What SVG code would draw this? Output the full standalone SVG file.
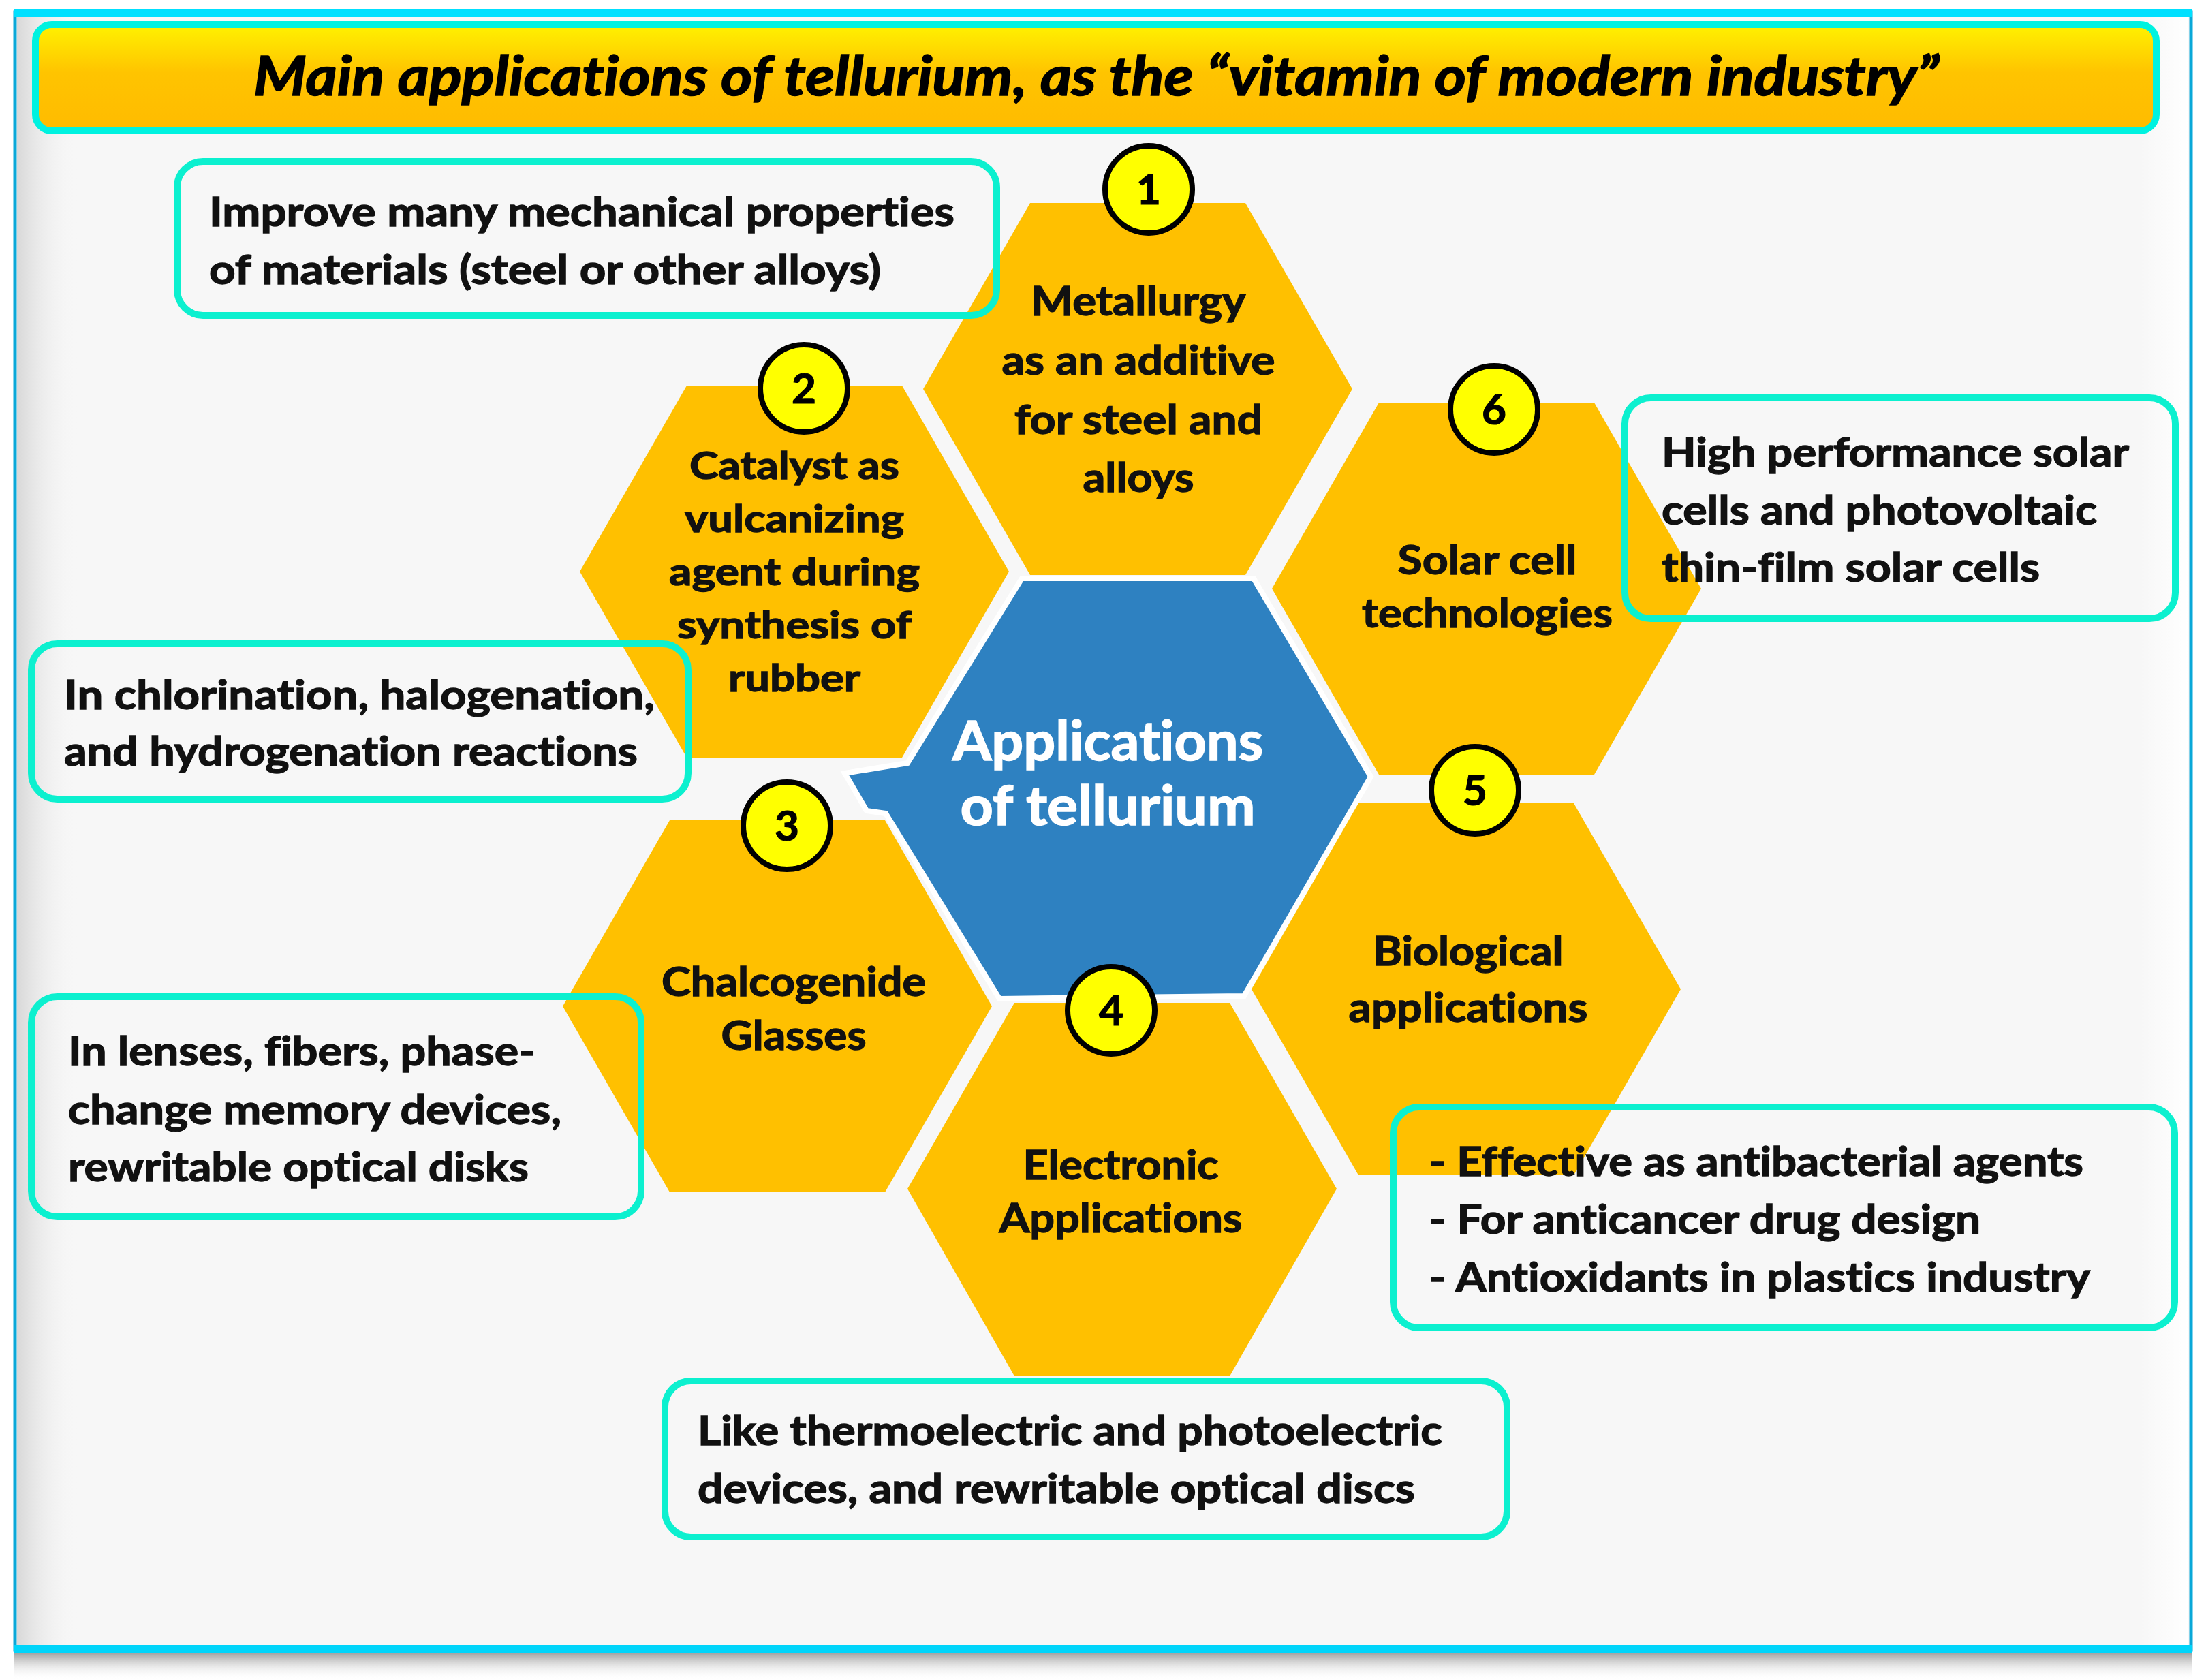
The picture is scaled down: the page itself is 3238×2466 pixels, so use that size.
<svg xmlns="http://www.w3.org/2000/svg" width="3238" height="2466" viewBox="0 0 3238 2466">
<defs>
<linearGradient id="titleGrad" x1="0" y1="0" x2="0" y2="1">
<stop offset="0" stop-color="#fff200"/>
<stop offset="0.45" stop-color="#ffc400"/>
<stop offset="1" stop-color="#ffbb00"/>
</linearGradient>
<linearGradient id="shadowGrad" x1="0" y1="0" x2="0" y2="1">
<stop offset="0" stop-color="#9a9a9a" stop-opacity="0.9"/>
<stop offset="1" stop-color="#ffffff" stop-opacity="0"/>
</linearGradient>
<linearGradient id="leftShade" x1="0" y1="0" x2="1" y2="0">
<stop offset="0" stop-color="#d8d8d8"/>
<stop offset="1" stop-color="#f7f7f7" stop-opacity="0"/>
</linearGradient>
<linearGradient id="rightShine" x1="0" y1="0" x2="1" y2="0">
<stop offset="0" stop-color="#ffffff" stop-opacity="0"/>
<stop offset="1" stop-color="#ffffff"/>
</linearGradient>
<style>
text{font-variant-ligatures:none;font-feature-settings:"liga" 0;}
.hex{fill:#ffc000;}
.core{fill:#2e81c1;stroke:#ffffff;stroke-width:8;stroke-linejoin:miter;}
.ht{font-family:Lato,"Open Sans","Liberation Sans",sans-serif;font-weight:bold;font-size:60px;fill:#111111;stroke:#111111;stroke-width:1.4;text-anchor:middle;}
.ht2{font-family:Lato,"Open Sans","Liberation Sans",sans-serif;font-weight:bold;font-size:56px;fill:#111111;stroke:#111111;stroke-width:1.4;text-anchor:middle;}
.ct{font-family:Lato,"Open Sans","Liberation Sans",sans-serif;font-weight:bold;font-size:80px;fill:#ffffff;stroke:#ffffff;stroke-width:1.6;text-anchor:middle;}
.badge{fill:#ffff00;stroke:#000000;stroke-width:8;}
.bn{font-family:Lato,"Open Sans","Liberation Sans",sans-serif;font-weight:bold;font-size:62px;fill:#000000;stroke:#000000;stroke-width:1.2;text-anchor:middle;}
.box{fill:none;stroke:#0cf0cf;stroke-width:10;}
.bt{font-family:Lato,"Open Sans","Liberation Sans",sans-serif;font-weight:bold;font-size:60px;fill:#111111;stroke:#111111;stroke-width:1.4;}
.title{font-family:Lato,"Open Sans","Liberation Sans",sans-serif;font-weight:bold;font-style:italic;font-size:80px;fill:#000000;stroke:#000000;stroke-width:1.6;text-anchor:middle;}
</style>
</defs>

<g id="frame">
<rect x="20" y="2427" width="3198" height="39" fill="url(#shadowGrad)"/>
<rect x="22" y="18" width="3194" height="2404" fill="#f7f7f7" stroke="#0aa8d8" stroke-width="5"/>
<rect x="25" y="25" width="90" height="2390" fill="url(#leftShade)"/>
<rect x="3140" y="25" width="72" height="2390" fill="url(#rightShine)"/>
<rect x="20" y="13" width="3198" height="12" fill="#00e0ff"/>
<rect x="20" y="2415" width="3198" height="12" fill="#00d4fa"/>
</g>

<g id="title">
<rect x="52" y="36" width="3113" height="156" rx="24" fill="url(#titleGrad)" stroke="#00f2e0" stroke-width="10"/>
<text class="title" x="1609" y="140" textLength="2474" lengthAdjust="spacingAndGlyphs">Main applications of tellurium, as the “vitamin of modern industry”</text>
</g>

<g id="center">
<polygon class="core" points="1500,849 1840,849 2012,1140 1826,1462 1467,1466 1300,1194 1272,1190 1240,1135 1332,1120"/>
<text class="ct" x="1626" y="1116" textLength="456" lengthAdjust="spacingAndGlyphs">Applications</text>
<text class="ct" x="1626" y="1211" textLength="433" lengthAdjust="spacingAndGlyphs">of tellurium</text>
</g>

<g id="hex-1">
<polygon class="hex" points="1355,571 1512,298 1828,298 1985,571 1828,844 1512,844"/>
<text class="ht" x="1671" y="463" textLength="315" lengthAdjust="spacingAndGlyphs">Metallurgy</text>
<text class="ht" x="1671" y="550" textLength="401" lengthAdjust="spacingAndGlyphs">as an additive</text>
<text class="ht" x="1671" y="637" textLength="364" lengthAdjust="spacingAndGlyphs">for steel and</text>
<text class="ht" x="1671" y="722" textLength="163" lengthAdjust="spacingAndGlyphs">alloys</text>
<circle class="badge" cx="1686" cy="278" r="64"/>
<text class="bn" x="1686" y="300">1</text>
</g>

<g id="hex-2">
<polygon class="hex" points="851,839 1008,566 1324,566 1481,839 1324,1112 1008,1112"/>
<text class="ht2" x="1166" y="703" textLength="308" lengthAdjust="spacingAndGlyphs">Catalyst as</text>
<text class="ht2" x="1166" y="781" textLength="322" lengthAdjust="spacingAndGlyphs">vulcanizing</text>
<text class="ht2" x="1166" y="859" textLength="368" lengthAdjust="spacingAndGlyphs">agent during</text>
<text class="ht2" x="1166" y="937" textLength="344" lengthAdjust="spacingAndGlyphs">synthesis of</text>
<text class="ht2" x="1166" y="1015" textLength="194" lengthAdjust="spacingAndGlyphs">rubber</text>
<circle class="badge" cx="1180" cy="570" r="64"/>
<text class="bn" x="1180" y="592">2</text>
</g>

<g id="hex-6">
<polygon class="hex" points="1867,864 2024,591 2340,591 2497,864 2340,1137 2024,1137"/>
<text class="ht" x="2183" y="843" textLength="263" lengthAdjust="spacingAndGlyphs">Solar cell</text>
<text class="ht" x="2183" y="921" textLength="368" lengthAdjust="spacingAndGlyphs">technologies</text>
<circle class="badge" cx="2193" cy="601" r="64"/>
<text class="bn" x="2193" y="623">6</text>
</g>

<g id="hex-3">
<polygon class="hex" points="826,1477 983,1204 1299,1204 1456,1477 1299,1750 983,1750"/>
<text class="ht" x="1165" y="1462" textLength="388" lengthAdjust="spacingAndGlyphs">Chalcogenide</text>
<text class="ht" x="1165" y="1541" textLength="213" lengthAdjust="spacingAndGlyphs">Glasses</text>
<circle class="badge" cx="1155" cy="1212" r="64"/>
<text class="bn" x="1155" y="1234">3</text>
</g>

<g id="hex-4">
<polygon class="hex" points="1332,1745 1489,1472 1805,1472 1962,1745 1805,2020 1489,2020"/>
<text class="ht" x="1645" y="1731" textLength="287" lengthAdjust="spacingAndGlyphs">Electronic</text>
<text class="ht" x="1645" y="1809" textLength="357" lengthAdjust="spacingAndGlyphs">Applications</text>
<circle class="badge" cx="1631" cy="1483" r="64"/>
<text class="bn" x="1631" y="1505">4</text>
</g>

<g id="hex-5">
<polygon class="hex" points="1837,1452 1994,1179 2310,1179 2467,1452 2310,1725 1994,1725"/>
<text class="ht" x="2155" y="1417" textLength="279" lengthAdjust="spacingAndGlyphs">Biological</text>
<text class="ht" x="2155" y="1500" textLength="351" lengthAdjust="spacingAndGlyphs">applications</text>
<circle class="badge" cx="2165" cy="1160" r="64"/>
<text class="bn" x="2165" y="1182">5</text>
</g>

<g id="note-1">
<rect class="box" x="260" y="237" width="1203" height="226" rx="38"/>
<text class="bt" x="307" y="332" textLength="1094" lengthAdjust="spacingAndGlyphs">Improve many mechanical properties</text>
<text class="bt" x="307" y="417" textLength="986" lengthAdjust="spacingAndGlyphs">of materials (steel or other alloys)</text>
</g>

<g id="note-6">
<rect class="box" x="2385" y="584" width="808" height="324" rx="38"/>
<text class="bt" x="2439" y="685" textLength="686" lengthAdjust="spacingAndGlyphs">High performance solar</text>
<text class="bt" x="2439" y="770" textLength="639" lengthAdjust="spacingAndGlyphs">cells and photovoltaic</text>
<text class="bt" x="2439" y="854" textLength="555" lengthAdjust="spacingAndGlyphs">thin-film solar cells</text>
</g>

<g id="note-2">
<rect class="box" x="46" y="945" width="964" height="228" rx="38"/>
<text class="bt" x="94" y="1041" textLength="867" lengthAdjust="spacingAndGlyphs">In chlorination, halogenation,</text>
<text class="bt" x="94" y="1124" textLength="842" lengthAdjust="spacingAndGlyphs">and hydrogenation reactions</text>
</g>

<g id="note-3">
<rect class="box" x="46" y="1463" width="895" height="323" rx="38"/>
<text class="bt" x="100" y="1564" textLength="686" lengthAdjust="spacingAndGlyphs">In lenses, fibers, phase-</text>
<text class="bt" x="100" y="1650" textLength="724" lengthAdjust="spacingAndGlyphs">change memory devices,</text>
<text class="bt" x="100" y="1734" textLength="676" lengthAdjust="spacingAndGlyphs">rewritable optical disks</text>
</g>

<g id="note-5">
<rect class="box" x="2045" y="1625" width="1147" height="324" rx="38"/>
<text class="bt" x="2098" y="1726" textLength="960" lengthAdjust="spacingAndGlyphs">- Effective as antibacterial agents</text>
<text class="bt" x="2098" y="1811" textLength="809" lengthAdjust="spacingAndGlyphs">- For anticancer drug design</text>
<text class="bt" x="2098" y="1896" textLength="970" lengthAdjust="spacingAndGlyphs">- Antioxidants in plastics industry</text>
</g>

<g id="note-4">
<rect class="box" x="976" y="2027" width="1236" height="229" rx="38"/>
<text class="bt" x="1024" y="2121" textLength="1093" lengthAdjust="spacingAndGlyphs">Like thermoelectric and photoelectric</text>
<text class="bt" x="1024" y="2206" textLength="1053" lengthAdjust="spacingAndGlyphs">devices, and rewritable optical discs</text>
</g>
</svg>
